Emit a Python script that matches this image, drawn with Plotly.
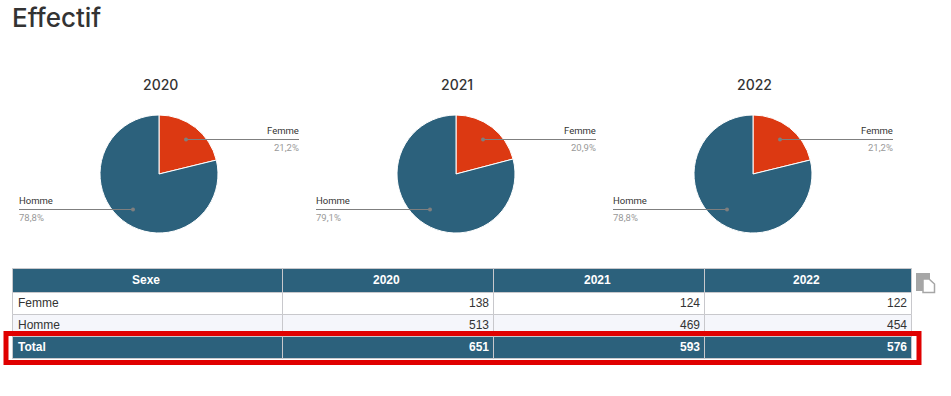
import plotly.graph_objects as go

W, H = 951, 396
years = ["2020", "2021", "2022"]
sexes = ["Femme", "Homme"]
femme = [138, 124, 122]
homme = [513, 469, 454]
total = [651, 593, 576]
femme_pct = ["21,2%", "20,9%", "21,2%"]
homme_pct = ["78,8%", "79,1%", "78,8%"]

BLUE = "#2c617c"
RED = "#dc3912"
GRID = "#c8c8cc"
centers = [159, 456, 753]
CY, R = 174, 59
col_edges = [12.5, 282.5, 493.5, 704.5, 911.5]
row_edges = [268.5, 292.5, 314.5, 336.5, 358.5]


def fx(px):
    return px / W


def fy(py):
    return 1 - py / H


fig = go.Figure()
shapes, ann = [], []


def text(px, py, s, size, color, anchor="left", family="Roboto", weight=400):
    ann.append(dict(x=fx(px), y=fy(py), xref="paper", yref="paper", text=s, showarrow=False,
                    xanchor=anchor, yanchor="middle", align=anchor, borderpad=0, borderwidth=0,
                    font=dict(size=size, color=color, family=family, weight=weight)))


def line(x0, y0, x1, y1, color="#7f7f7f", width=1):
    shapes.append(dict(type="line", xref="paper", yref="paper", x0=fx(x0), x1=fx(x1), y0=fy(y0), y1=fy(y1),
                       line=dict(color=color, width=width)))


def rect(x0, y0, x1, y1, fill, lcolor=None, lwidth=0):
    shapes.append(dict(type="rect", xref="paper", yref="paper", x0=fx(x0), x1=fx(x1), y0=fy(y0), y1=fy(y1),
                       fillcolor=fill, line=dict(color=lcolor, width=lwidth) if lcolor else dict(width=0)))


for i, cx in enumerate(centers):
    fig.add_trace(go.Pie(
        labels=sexes, values=[femme[i], homme[i]], sort=False, direction="clockwise", rotation=0,
        marker=dict(colors=[RED, BLUE], line=dict(color="white", width=1)),
        textinfo="none", hoverinfo="label+percent", showlegend=False,
        domain=dict(x=[fx(cx - R), fx(cx + R)], y=[fy(CY + R), fy(CY - R)]),
    ))
    text(cx + 1, 84, years[i], 14, "#333333", "center", "Inter", 500)
    line(cx + 27, 139.5, cx + 140, 139.5)
    shapes.append(dict(type="circle", xref="paper", yref="paper", fillcolor="#7f7f7f", line_width=0,
                       x0=fx(cx + 25), x1=fx(cx + 29), y0=fy(137.5), y1=fy(141.5)))
    text(cx + 140, 130, "Femme", 9.5, "#333333", "right")
    text(cx + 140, 147, femme_pct[i], 9.5, "#999999", "right")
    line(cx - 140, 209.5, cx - 26, 209.5)
    shapes.append(dict(type="circle", xref="paper", yref="paper", fillcolor="#7f7f7f", line_width=0,
                       x0=fx(cx - 28), x1=fx(cx - 24), y0=fy(207.5), y1=fy(211.5)))
    text(cx - 140, 200, "Homme", 9.5, "#333333", "left")
    text(cx - 140, 217, homme_pct[i], 9.5, "#999999", "left")

text(12, 18, "Effectif", 26, "#333333", "left", "Inter", 500)

# Table
TF = "Liberation Sans"
rows = [
    ("<b>Sexe</b>", [f"<b>{y}</b>" for y in years], BLUE, "white"),
    (sexes[0], [str(v) for v in femme], "white", "#333333"),
    (sexes[1], [str(v) for v in homme], "#f5f6fb", "#333333"),
    ("<b>Total</b>", [f"<b>{v}</b>" for v in total], BLUE, "white"),
]
for r, (first, vals, fill, color) in enumerate(rows):
    y0, y1 = row_edges[r], row_edges[r + 1]
    ym = (y0 + y1) / 2 - 1
    for c in range(4):
        rect(col_edges[c], y0, col_edges[c + 1], y1, fill, GRID, 1)
    if r == 0:
        text((col_edges[0] + col_edges[1]) / 2 - 2, ym, first, 12, color, "center", TF)
    else:
        text(col_edges[0] + 5, ym, first, 12, color, "left", TF)
    for c, v in enumerate(vals):
        if r == 0:
            text((col_edges[c + 1] + col_edges[c + 2]) / 2 - 2, ym, v, 12, color, "center", TF)
        else:
            text(col_edges[c + 2] - 4.5, ym, v, 12, color, "right", TF)

# Red highlight around total row
rect(6, 333.5, 919, 362.5, "rgba(0,0,0,0)", "#e00000", 5)
# Copy icon
rect(916, 273, 930, 291, "#a6a6a6")
shapes.append(dict(type="path", xref="paper", yref="paper", line=dict(color="#a6a6a6", width=1.5), fillcolor="white",
                   path=f"M {fx(923)} {fy(279)} L {fx(929)} {fy(279)} L {fx(934.5)} {fy(284)} L {fx(934.5)} {fy(292.5)} L {fx(923)} {fy(292.5)} Z"))

fig.update_layout(width=W, height=H, margin=dict(l=0, r=0, t=0, b=0), paper_bgcolor="white",
                  shapes=shapes, annotations=ann)
fig.write_html("out.html", config=dict(displayModeBar=False),
               post_script="document.body.style.margin='0';")
